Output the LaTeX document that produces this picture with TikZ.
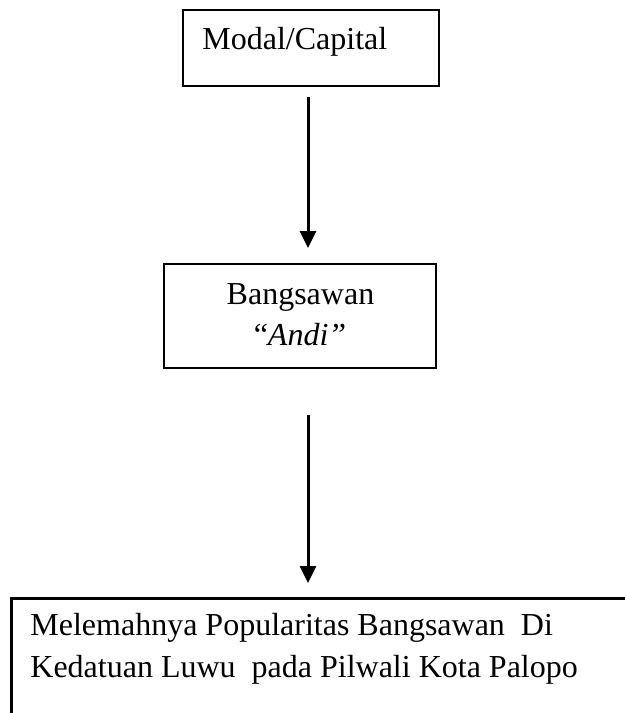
\documentclass[tikz,border=0pt]{standalone}
\usepackage{fontspec}
\setmainfont{Liberation Serif}
\usetikzlibrary{arrows.meta}
\tikzset{
  boxstyle/.style={draw=black, line width=1.4pt, inner sep=0pt},
  txt/.style={inner sep=0pt, font=\fontsize{16}{20.5}\selectfont},
  arr/.style={line width=1.5pt, -{Triangle[length=8.5pt,width=8pt]}},
}
\begin{document}
\begin{tikzpicture}[x=0.5pt,y=-0.5pt]
\useasboundingbox (0,0) rectangle (625,713);
\clip (0,0) rectangle (625,713);
% boxes
\node[boxstyle, minimum width=128pt, minimum height=38pt] (b1) at (311,48) {};
\node[boxstyle, minimum width=136pt, minimum height=52pt] (b2) at (300,316) {};
\node[boxstyle, minimum width=320pt, minimum height=70pt, anchor=north west] (b3) at (10,597) {};
% texts
\node[txt, anchor=base west] (t1) at (202,49) {Modal/Capital};
\node[txt, anchor=base] (t2a) at (300.5,304) {Bangsawan};
\node[txt, anchor=base] (t2b) at (300,345) {“\textit{Andi”}};
\node[txt, anchor=base west] (t3a) at (30,635) {Melemahnya Popularitas Bangsawan~ Di};
\node[txt, anchor=base west] (t3b) at (30,677) {Kedatuan Luwu~ pada Pilwali Kota Palopo};
% arrows
\coordinate (a1s) at (308,97);
\coordinate (a1e) at (308,248);
\coordinate (a2s) at (308,415);
\coordinate (a2e) at (308,583);
\draw[arr] (a1s) -- (a1e);
\draw[arr] (a2s) -- (a2e);
\end{tikzpicture}
\end{document}
